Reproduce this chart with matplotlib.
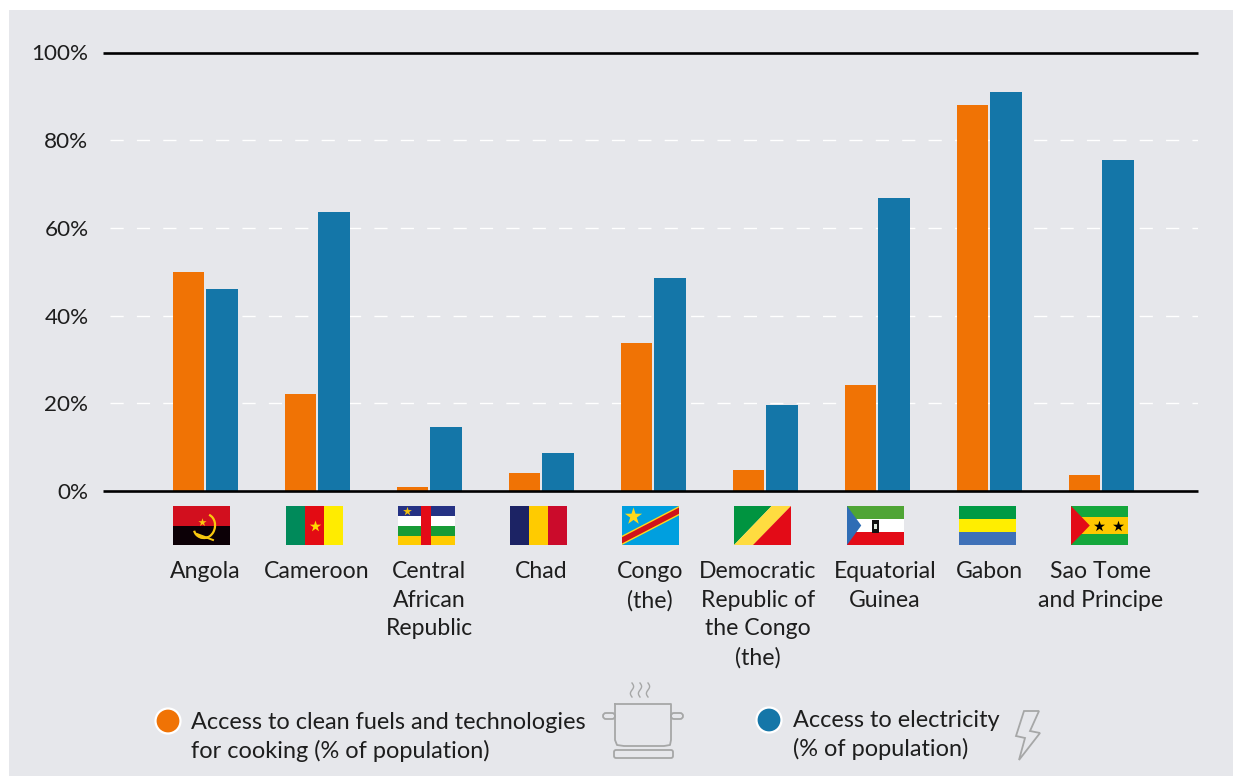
import numpy as np
import matplotlib
matplotlib.use('Agg')
import matplotlib.pyplot as plt
from matplotlib.patches import Rectangle, Polygon, Circle, FancyBboxPatch, Arc

plt.rcParams['font.family'] = ['Lato', 'DejaVu Sans']

countries = ['Angola', 'Cameroon', 'Central\nAfrican\nRepublic', 'Chad', 'Congo\n(the)',
             'Democratic\nRepublic of\nthe Congo\n(the)', 'Equatorial\nGuinea', 'Gabon',
             'Sao Tome\nand Principe']
cooking = [50, 22.2, 0.8, 4, 33.7, 4.7, 24.2, 88, 3.7]
electricity = [46, 63.7, 14.5, 8.6, 48.5, 19.6, 66.8, 91, 75.5]
yticks = [0, 20, 40, 60, 80, 100]
legend_cooking = 'Access to clean fuels and technologies\nfor cooking (% of population)'
legend_power = 'Access to electricity\n(% of population)'

W, H = 1233, 776
orange = '#F07305'
blue = '#1476A8'
bg = '#E6E7EB'
text_col = '#1E1E1E'
grey = '#A6A7A7'
fs_tick = 16.2
fs_cat = 16.6
fs_leg = 16.9

# layout in pixels
label_x = [205, 317, 429, 541, 650, 758, 885, 989, 1101]
flag_x = [173, 286, 398, 510, 622, 734, 847, 959, 1071]
flag_y, flag_w, flag_h = 506, 57, 39

fig = plt.figure(figsize=(W / 100, H / 100), dpi=100, facecolor='white')

# background + overlay in pixel coordinates
ov = fig.add_axes([0, 0, 1, 1], zorder=3)
ov.set_xlim(0, W)
ov.set_ylim(H, 0)
ov.axis('off')
ov.patch.set_alpha(0)
fig.patches.append(Rectangle((9 / W, 0), (W - 9) / W, (H - 10) / H, transform=fig.transFigure,
                             facecolor=bg, edgecolor='none', zorder=-1))

# main chart
left, right, top, bottom = 103, 1198, 52.5, 491
ax = fig.add_axes([left / W, 1 - bottom / H, (right - left) / W, (bottom - top) / H], zorder=2)
ax.patch.set_alpha(0)
step = 112.0
x = np.arange(len(countries))
bw = 31.5 / step
ax.bar(x - 16.5 / step, cooking, bw, color=orange, zorder=3)
ax.bar(x + 17 / step, electricity, bw, color=blue, zorder=3)
ax.set_xlim(-(205 - left) / step, (right - 205) / step)
ax.set_ylim(0, 100)
for s in ax.spines.values():
    s.set_visible(False)
ax.set_xticks([])
ax.set_yticks(yticks)
ax.set_yticklabels([f'{v}%' for v in yticks], fontsize=fs_tick, color=text_col)
ax.tick_params(axis='y', length=0, pad=10.5)
for v in yticks[1:-1]:
    ax.plot([(110 - 205) / step, (right - 205) / step], [v, v], color='white', lw=1,
            dashes=(9.5, 9.5), zorder=1)
ax.axhline(100, color='black', lw=1.9, clip_on=False, zorder=4, solid_capstyle='butt')
ax.axhline(0, color='black', lw=1.9, clip_on=False, zorder=4, solid_capstyle='butt')

for name, lx in zip(countries, label_x):
    ov.text(lx, 561, name, ha='center', va='top', fontsize=fs_cat, color=text_col, linespacing=1.45)


def rect(fx, fy, fw, fh, c, f0):
    ov.add_patch(Rectangle((f0 + fx * flag_w, flag_y + fy * flag_h), fw * flag_w, fh * flag_h,
                           facecolor=c, edgecolor='none'))


def poly(pts, c, f0):
    ov.add_patch(Polygon([(f0 + a * flag_w, flag_y + b * flag_h) for a, b in pts],
                         closed=True, facecolor=c, edgecolor='none'))


def star(fx, fy, c, f0, s=70):
    ov.scatter([f0 + fx * flag_w], [flag_y + fy * flag_h], marker='*', s=s, color=c, linewidths=0, zorder=5)


# Angola
f = flag_x[0]
rect(0, 0, 1, 0.5, '#D20F1E', f)
rect(0, 0.5, 1, 0.5, '#0C0006', f)
star(0.5, 0.42, '#F9C80E', f, 38)
ov.add_patch(Arc((f + 32, flag_y + 20), 20, 24, theta1=-80, theta2=120, color='#F9C80E', lw=1.6,
                 angle=10, zorder=5))
ov.add_patch(Arc((f + 31, flag_y + 23), 20, 18, theta1=60, theta2=170, color='#F9C80E', lw=1.6,
                 zorder=5))
ov.plot([f + 24, f + 40], [flag_y + 28, flag_y + 34], color='#F9C80E', lw=1.4, zorder=5)

# Cameroon
f = flag_x[1]
rect(0, 0, 1 / 3, 1, '#008A5A', f)
rect(1 / 3, 0, 1 / 3, 1, '#E30B13', f)
rect(2 / 3, 0, 1 / 3, 1, '#FFEC00', f)
star(0.5, 0.5, '#FFD800', f, 75)

# Central African Republic
f = flag_x[2]
rect(0, 0, 1, 0.26, '#253284', f)
rect(0, 0.26, 1, 0.26, '#FFFFFF', f)
rect(0, 0.52, 1, 0.24, '#189B36', f)
rect(0, 0.76, 1, 0.24, '#FFCB00', f)
rect(0.4, 0, 0.18, 1, '#E30B17', f)
star(0.16, 0.14, '#F4C20D', f, 45)

# Chad
f = flag_x[3]
rect(0, 0, 1 / 3, 1, '#1C2364', f)
rect(1 / 3, 0, 1 / 3, 1, '#FFCB00', f)
rect(2 / 3, 0, 1 / 3, 1, '#CB0B2B', f)

# Congo (the): DRC flag
f = flag_x[4]
rect(0, 0, 1, 1, '#009FDF', f)
poly([(0, 0.76), (1, 0), (1, 0.24), (0, 1)], '#FFD91A', f)
poly([(0, 0.8), (1, 0.04), (1, 0.2), (0, 0.96)], '#D0121A', f)
star(0.2, 0.26, '#FFD91A', f, 170)

# Democratic Republic of the Congo: Congo flag
f = flag_x[5]
poly([(0, 0), (0.66, 0), (0, 1)], '#009440', f)
poly([(0.66, 0), (1, 0), (0.34, 1), (0, 1)], '#FFDC40', f)
poly([(1, 0), (1, 1), (0.34, 1)], '#E30B17', f)

# Equatorial Guinea
f = flag_x[6]
rect(0, 0, 1, 1 / 3, '#4FA535', f)
rect(0, 1 / 3, 1, 1 / 3, '#FFFFFF', f)
rect(0, 2 / 3, 1, 1 / 3, '#E30B17', f)
poly([(0, 0), (0.25, 0.5), (0, 1)], '#2F6DB5', f)
rect(0.44, 0.37, 0.13, 0.33, '#111111', f)
rect(0.475, 0.47, 0.06, 0.12, '#DDE8DD', f)

# Gabon
f = flag_x[7]
rect(0, 0, 1, 1 / 3, '#009A44', f)
rect(0, 1 / 3, 1, 1 / 3, '#FFEE00', f)
rect(0, 2 / 3, 1, 1 / 3, '#3F71B8', f)

# Sao Tome and Principe
f = flag_x[8]
rect(0, 0, 1, 0.28, '#14A73C', f)
rect(0, 0.28, 1, 0.44, '#FFC800', f)
rect(0, 0.72, 1, 0.28, '#14A73C', f)
poly([(0, 0), (0.33, 0.5), (0, 1)], '#E30B17', f)
star(0.49, 0.5, '#000000', f, 70)
star(0.82, 0.5, '#000000', f, 70)

# legend
ov.add_patch(Circle((168, 721), 12.5, facecolor=orange, edgecolor='white', lw=1.6))
ov.add_patch(Circle((769, 720), 12.5, facecolor=blue, edgecolor='white', lw=1.6))
ov.text(191, 712, legend_cooking, ha='left', va='top', fontsize=fs_leg, color=text_col, linespacing=1.38)
ov.text(793, 710, legend_power, ha='left', va='top', fontsize=fs_leg, color=text_col, linespacing=1.38)

# pot icon
lw = 1.3
ov.plot([615, 615, 617, 624, 664, 670, 671, 671, 615], [704, 740, 745, 746, 746, 745, 740, 704, 704],
        color=grey, lw=lw)
ov.add_patch(FancyBboxPatch((603, 713), 12, 6, boxstyle='round,pad=0,rounding_size=3',
                            facecolor='none', edgecolor=grey, lw=lw))
ov.add_patch(FancyBboxPatch((671, 713), 12, 6, boxstyle='round,pad=0,rounding_size=3',
                            facecolor='none', edgecolor=grey, lw=lw))
ov.add_patch(FancyBboxPatch((614, 750), 59, 8, boxstyle='round,pad=0,rounding_size=2',
                            facecolor='none', edgecolor=grey, lw=lw))
t = np.linspace(0, 1, 30)
for sx in [632, 640, 648]:
    ov.plot(sx + 1.6 * np.sin(t * 2 * np.pi), 683 + t * 14, color=grey, lw=1)

# bolt icon
ov.add_patch(Polygon([(1024, 711), (1039, 711), (1030, 731), (1040, 733), (1019, 760), (1025, 738), (1016, 736)],
                     closed=True, facecolor='none', edgecolor=grey, lw=lw))

fig.savefig('out.png', dpi=100, facecolor='white')
